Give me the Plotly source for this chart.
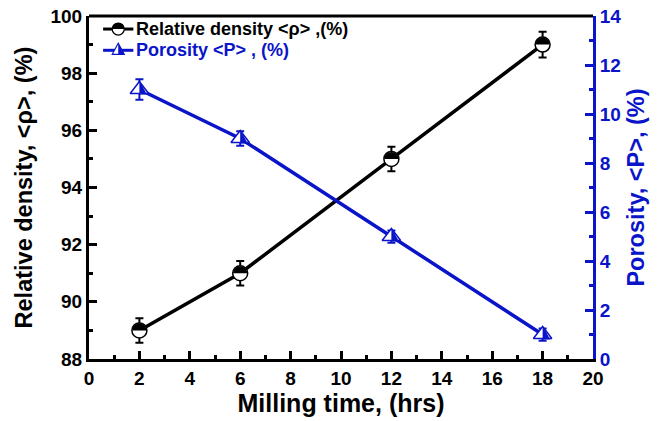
import plotly.graph_objects as go

# Milling time (hrs) and measured values
milling_time = [2, 6, 12, 18]
relative_density = [89, 91, 95, 99]
density_err = [0.43, 0.43, 0.43, 0.45]
porosity = [11, 9, 5, 1]
porosity_err = [0.42, 0.3, 0.25, 0.25]

x_ticks = list(range(0, 21, 2))
y1_ticks = list(range(88, 101, 2))
y2_ticks = list(range(0, 15, 2))

BLACK = "#000000"
BLUE = "#0a14c8"
FONT = "Liberation Sans"

fig = go.Figure()

fig.add_trace(go.Scatter(
    x=milling_time, y=relative_density,
    mode="lines+markers",
    line=dict(color=BLACK, width=3.5),
    marker=dict(symbol="circle", size=15, color="white",
                line=dict(color=BLACK, width=1.5)),
    error_y=dict(type="data", array=density_err, color=BLACK,
                 thickness=2, width=4),
    showlegend=False, yaxis="y",
))

fig.add_trace(go.Scatter(
    x=milling_time, y=porosity,
    mode="lines+markers",
    line=dict(color=BLUE, width=3.5),
    marker=dict(symbol="triangle-up", size=16, color="white",
                line=dict(color=BLUE, width=1.5)),
    error_y=dict(type="data", array=porosity_err, color=BLUE,
                 thickness=2, width=4),
    showlegend=False, yaxis="y2",
))

K = 0.5523


def top_half_circle(r):
    return (f"M {-r},0 C {-r},{K*r} {-K*r},{r} 0,{r} "
            f"C {K*r},{r} {r},{K*r} {r},0 Z")


def right_half_triangle(s, top, bot):
    return f"M 0,{top} L {s},{-bot} L 0,{-bot} Z"


shapes = []
# half-filled markers on the data points
for xv, yv in zip(milling_time, relative_density):
    shapes.append(dict(type="path", xref="x", yref="y",
                       xsizemode="pixel", ysizemode="pixel",
                       xanchor=xv, yanchor=yv,
                       path=top_half_circle(7),
                       fillcolor=BLACK, line=dict(width=0)))
for xv, yv in zip(milling_time, porosity):
    shapes.append(dict(type="path", xref="x", yref="y2",
                       xsizemode="pixel", ysizemode="pixel",
                       xanchor=xv, yanchor=yv,
                       path=right_half_triangle(7.5, 9, 5),
                       fillcolor=BLUE, line=dict(width=0)))

# hand-built legend
legend_rows = [
    ("Relative density <ρ> ,(%)", BLACK, 0.962, "circle"),
    ("Porosity <P> , (%)", BLUE, 0.900, "triangle"),
]
lx0, lx1, lxm = 0.028, 0.088, 0.058
annotations = []
for label, col, ly, kind in legend_rows:
    shapes.append(dict(type="line", xref="paper", yref="paper",
                       x0=lx0, x1=lx1, y0=ly, y1=ly,
                       line=dict(color=col, width=3)))
    if kind == "circle":
        shapes.append(dict(type="circle", xref="paper", yref="paper",
                           xsizemode="pixel", ysizemode="pixel",
                           xanchor=lxm, yanchor=ly,
                           x0=-6, x1=6, y0=-6, y1=6,
                           fillcolor="white", line=dict(color=col, width=1.2)))
        shapes.append(dict(type="path", xref="paper", yref="paper",
                           xsizemode="pixel", ysizemode="pixel",
                           xanchor=lxm, yanchor=ly,
                           path=top_half_circle(6),
                           fillcolor=col, line=dict(width=0)))
    else:
        shapes.append(dict(type="path", xref="paper", yref="paper",
                           xsizemode="pixel", ysizemode="pixel",
                           xanchor=lxm, yanchor=ly,
                           path="M 0,7 L 6,-4 L -6,-4 Z",
                           fillcolor="white", line=dict(color=col, width=1.2)))
        shapes.append(dict(type="path", xref="paper", yref="paper",
                           xsizemode="pixel", ysizemode="pixel",
                           xanchor=lxm, yanchor=ly,
                           path=right_half_triangle(6, 7, 4),
                           fillcolor=col, line=dict(width=0)))
    annotations.append(dict(xref="paper", yref="paper", x=lx1 + 0.002, y=ly,
                            xanchor="left", yanchor="middle", showarrow=False,
                            text=label,
                            font=dict(family=FONT, size=18, color=col,
                                      weight="bold")))

# top frame line
shapes.append(dict(type="line", xref="paper", yref="paper",
                   x0=0, x1=1, y0=1, y1=1,
                   line=dict(color=BLACK, width=3)))

tick_font = dict(family=FONT, size=19, color=BLACK, weight="bold")

fig.update_layout(
    width=671, height=421,
    margin=dict(l=89, r=78, t=16, b=62),
    plot_bgcolor="white", paper_bgcolor="white",
    shapes=shapes, annotations=annotations,
    xaxis=dict(
        range=[0, 20], tickvals=x_ticks, ticks="inside", ticklen=8,
        tickwidth=2.5, tickcolor=BLACK, showline=True, linewidth=3,
        linecolor=BLACK, showgrid=False, zeroline=False,
        tickfont=tick_font, automargin=False,
        minor=dict(dtick=1, ticks="inside", ticklen=4, tickwidth=2.5,
                   tickcolor=BLACK, showgrid=False),
        title=dict(text="Milling time, (hrs)", standoff=6,
                   font=dict(family=FONT, size=25, color=BLACK,
                             weight="bold")),
    ),
    yaxis=dict(
        range=[88, 100], tickvals=y1_ticks, ticks="inside", ticklen=8,
        tickwidth=2.5, tickcolor=BLACK, showline=True, linewidth=3,
        linecolor=BLACK, showgrid=False, zeroline=False,
        tickfont=tick_font, automargin=False,
        minor=dict(dtick=1, ticks="inside", ticklen=4, tickwidth=2.5,
                   tickcolor=BLACK, showgrid=False),
        title=dict(text="Relative density, <ρ>, (%)", standoff=12,
                   font=dict(family=FONT, size=23.5, color=BLACK,
                             weight="bold")),
    ),
    yaxis2=dict(
        range=[0, 14], tickvals=y2_ticks, overlaying="y", side="right",
        ticks="inside", ticklen=8, tickwidth=2.5, tickcolor=BLUE,
        showline=True, linewidth=3, linecolor=BLUE, showgrid=False,
        zeroline=False, automargin=False,
        tickfont=dict(family=FONT, size=19, color=BLUE, weight="bold"),
        minor=dict(dtick=1, ticks="inside", ticklen=4, tickwidth=2.5,
                   tickcolor=BLUE, showgrid=False),
        title=dict(text="Porosity, <P>, (%)", standoff=8,
                   font=dict(family=FONT, size=23.5, color=BLUE,
                             weight="bold")),
    ),
)

fig.write_html("out.html")
